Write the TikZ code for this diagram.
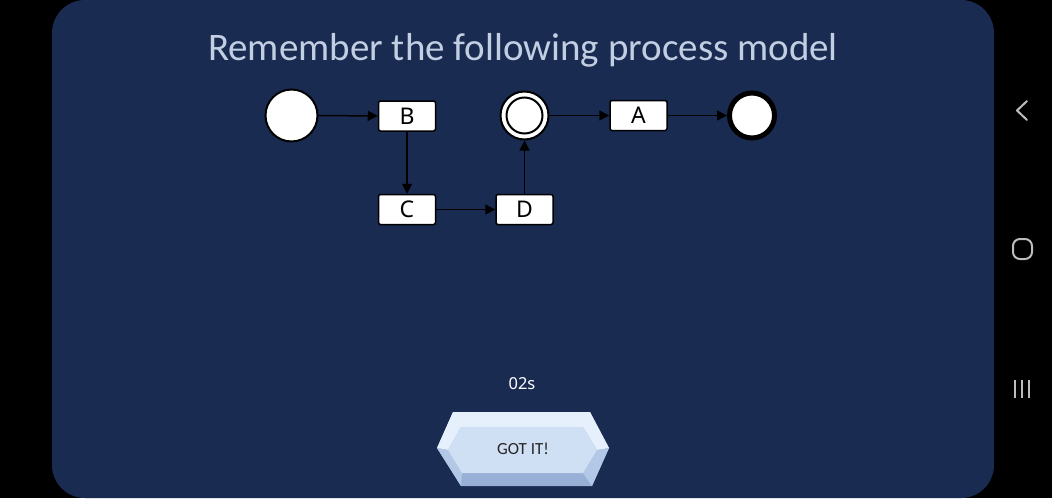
\documentclass[tikz,border=0pt]{standalone}
\usepackage{fontspec}
\setmainfont{Noto Sans}
\newfontfamily\handfont{Carlito}
\usetikzlibrary{arrows.meta}
\definecolor{panel}{HTML}{1A2B52}
\definecolor{titlec}{HTML}{C2CEE2}
\definecolor{navc}{HTML}{BDBDBD}
\definecolor{btnface}{HTML}{CFDFF4}
\definecolor{btntop}{HTML}{E6EFFC}
\definecolor{btnside}{HTML}{B3C8E6}
\definecolor{btnbot}{HTML}{98B0D6}
\tikzset{
  task/.style={draw=black, fill=white, line width=1.5pt, rounded corners=2pt,
    minimum width=57pt, minimum height=30pt, inner sep=0pt, font=\fontsize{23}{23}\selectfont},
  flow/.style={draw=black, line width=1.5pt, -{Triangle[length=10pt,width=10pt]}},
  navline/.style={draw=navc, line width=2pt, line cap=round, line join=round}
}
\begin{document}
\begin{tikzpicture}[x=1pt,y=-1pt]
\useasboundingbox (0,0) rectangle (1052,498);
\fill[black] (0,0) rectangle (1052,498);
\fill[panel, rounded corners=33pt] (52,0) rectangle (994,498);

% title
\node[text=titlec, font=\handfont\fontsize{39}{39}\selectfont, anchor=base] (title) at (523,60) {Remember the following process model};

% process model
\node[circle, draw=black, fill=white, line width=2pt, minimum size=52pt, inner sep=0pt] (start) at (291.5,115.5) {};
\node[task] (B) at (407,116) {B};
\node[task] (C) at (407,209.5) {C};
\node[task] (D) at (524.5,209.5) {D};
\node[circle, draw=black, fill=white, line width=2pt, minimum size=48pt, inner sep=0pt] (mid) at (524.5,115.5) {};
\node[circle, draw=black, fill=white, line width=2pt, minimum size=36pt, inner sep=0pt] (midin) at (524.5,115.5) {};
\node[task] (A) at (638.5,115.5) {A};
\node[circle, draw=black, fill=white, line width=5pt, minimum size=45pt, inner sep=0pt] (end) at (752,115.5) {};

\draw[flow] (start) -- (B);
\draw[flow] (B) -- (C);
\draw[flow] (C) -- (D);
\draw[flow] (D) -- (mid);
\draw[flow] (mid) -- (A);
\draw[flow] (A) -- (end);

% timer
\node[text=white, font=\fontsize{16.5}{16.5}\selectfont, anchor=base] (timer) at (522,389) {02s};

% button
\fill[btnbot] (437,448) -- (453,412) -- (590,412) -- (609,448) -- (592,486) -- (461,486) -- cycle;
\fill[btntop] (437,448) -- (453,412) -- (590,412) -- (609,448) -- (597,450) -- (583,427) -- (461,427) -- (448,450) -- cycle;
\fill[btnside] (437,448) -- (448,450) -- (462,473) -- (461,486) -- cycle;
\fill[btnside] (609,448) -- (597,450) -- (583,473) -- (592,486) -- cycle;
\fill[btnface] (461,427) -- (583,427) -- (597,450) -- (583,473) -- (462,473) -- (448,450) -- cycle;
\node[text=black!85, font=\handfont\fontsize{17}{17}\selectfont] (got) at (523,449) {GOT IT!};

% navigation bar
\draw[navline] (1027,101) -- (1017,110.5) -- (1027,120);
\draw[navline, rounded corners=7pt] (1013,239) rectangle (1032,259);
\draw[navline, line cap=butt] (1015,380) -- (1015,398) (1022,380) -- (1022,398) (1029,380) -- (1029,398);
\end{tikzpicture}
\end{document}
